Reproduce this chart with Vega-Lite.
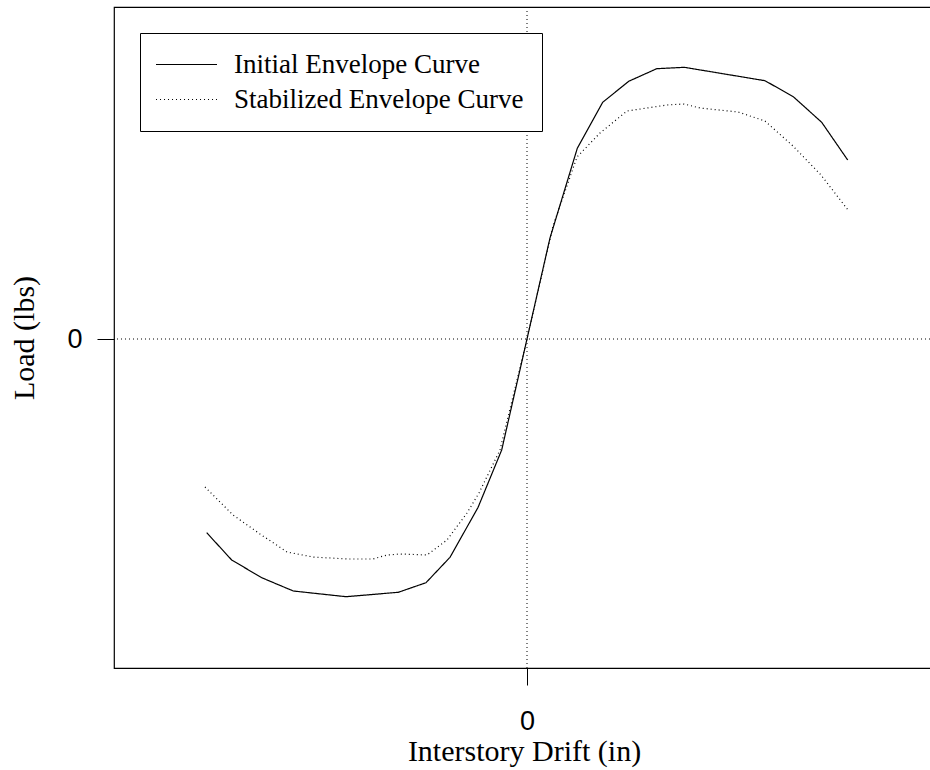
{
  "$schema": "https://vega.github.io/schema/vega-lite/v6.json",
  "width": 820,
  "height": 661,
  "autosize": {"type": "none"},
  "padding": {"left": 114, "top": 7, "right": 0, "bottom": 102},
  "background": "white",
  "config": {
    "view": {"stroke": "black", "strokeWidth": 1.2},
    "axis": {
      "domain": false,
      "grid": false,
      "ticks": true,
      "tickColor": "black",
      "tickWidth": 1,
      "tickSize": 17,
      "labelFont": "Liberation Sans",
      "labelFontSize": 27,
      "labelColor": "black",
      "titleFont": "Liberation Serif",
      "titleFontSize": 30,
      "titleFontWeight": "normal",
      "titleColor": "black"
    }
  },
  "data": {
    "values": [
      {"series": "Initial Envelope Curve", "ord": 1, "drift": -3.203, "load": -3874},
      {"series": "Initial Envelope Curve", "ord": 2, "drift": -2.953, "load": -4420},
      {"series": "Initial Envelope Curve", "ord": 3, "drift": -2.653, "load": -4774},
      {"series": "Initial Envelope Curve", "ord": 4, "drift": -2.337, "load": -5040},
      {"series": "Initial Envelope Curve", "ord": 5, "drift": -1.81, "load": -5154},
      {"series": "Initial Envelope Curve", "ord": 6, "drift": -1.287, "load": -5066},
      {"series": "Initial Envelope Curve", "ord": 7, "drift": -1.01, "load": -4874},
      {"series": "Initial Envelope Curve", "ord": 8, "drift": -0.77, "load": -4366},
      {"series": "Initial Envelope Curve", "ord": 9, "drift": -0.49, "load": -3370},
      {"series": "Initial Envelope Curve", "ord": 10, "drift": -0.253, "load": -2220},
      {"series": "Initial Envelope Curve", "ord": 11, "drift": 0, "load": 0},
      {"series": "Initial Envelope Curve", "ord": 12, "drift": 0.23, "load": 2020},
      {"series": "Initial Envelope Curve", "ord": 13, "drift": 0.503, "load": 3814},
      {"series": "Initial Envelope Curve", "ord": 14, "drift": 0.757, "load": 4734},
      {"series": "Initial Envelope Curve", "ord": 15, "drift": 1.017, "load": 5154},
      {"series": "Initial Envelope Curve", "ord": 16, "drift": 1.297, "load": 5406},
      {"series": "Initial Envelope Curve", "ord": 17, "drift": 1.573, "load": 5434},
      {"series": "Initial Envelope Curve", "ord": 18, "drift": 2.38, "load": 5166},
      {"series": "Initial Envelope Curve", "ord": 19, "drift": 2.663, "load": 4846},
      {"series": "Initial Envelope Curve", "ord": 20, "drift": 2.947, "load": 4334},
      {"series": "Initial Envelope Curve", "ord": 21, "drift": 3.207, "load": 3580},
      {"series": "Stabilized Envelope Curve", "ord": 1, "drift": -3.22, "load": -2960},
      {"series": "Stabilized Envelope Curve", "ord": 2, "drift": -2.94, "load": -3520},
      {"series": "Stabilized Envelope Curve", "ord": 3, "drift": -2.67, "load": -3900},
      {"series": "Stabilized Envelope Curve", "ord": 4, "drift": -2.4, "load": -4260},
      {"series": "Stabilized Envelope Curve", "ord": 5, "drift": -2.14, "load": -4360},
      {"series": "Stabilized Envelope Curve", "ord": 6, "drift": -1.8, "load": -4400},
      {"series": "Stabilized Envelope Curve", "ord": 7, "drift": -1.54, "load": -4400},
      {"series": "Stabilized Envelope Curve", "ord": 8, "drift": -1.4, "load": -4320},
      {"series": "Stabilized Envelope Curve", "ord": 9, "drift": -1.27, "load": -4300},
      {"series": "Stabilized Envelope Curve", "ord": 10, "drift": -1.0, "load": -4320},
      {"series": "Stabilized Envelope Curve", "ord": 11, "drift": -0.8, "load": -4020},
      {"series": "Stabilized Envelope Curve", "ord": 12, "drift": -0.6, "load": -3480},
      {"series": "Stabilized Envelope Curve", "ord": 13, "drift": -0.48, "load": -3080},
      {"series": "Stabilized Envelope Curve", "ord": 14, "drift": -0.27, "load": -2220},
      {"series": "Stabilized Envelope Curve", "ord": 15, "drift": 0, "load": 0},
      {"series": "Stabilized Envelope Curve", "ord": 16, "drift": 0.26, "load": 2260},
      {"series": "Stabilized Envelope Curve", "ord": 17, "drift": 0.5, "load": 3640},
      {"series": "Stabilized Envelope Curve", "ord": 18, "drift": 0.73, "load": 4120},
      {"series": "Stabilized Envelope Curve", "ord": 19, "drift": 1.0, "load": 4560},
      {"series": "Stabilized Envelope Curve", "ord": 20, "drift": 1.4, "load": 4680},
      {"series": "Stabilized Envelope Curve", "ord": 21, "drift": 1.57, "load": 4700},
      {"series": "Stabilized Envelope Curve", "ord": 22, "drift": 1.73, "load": 4620},
      {"series": "Stabilized Envelope Curve", "ord": 23, "drift": 2.11, "load": 4540},
      {"series": "Stabilized Envelope Curve", "ord": 24, "drift": 2.38, "load": 4360},
      {"series": "Stabilized Envelope Curve", "ord": 25, "drift": 2.66, "load": 3860},
      {"series": "Stabilized Envelope Curve", "ord": 26, "drift": 2.94, "load": 3280},
      {"series": "Stabilized Envelope Curve", "ord": 27, "drift": 3.21, "load": 2580}
    ]
  },
  "layer": [
    {
      "data": {"values": [{"v": 0}]},
      "mark": {"type": "rule", "color": "black", "strokeWidth": 1, "strokeDash": [1, 3]},
      "encoding": {"x": {"field": "v", "type": "quantitative"}}
    },
    {
      "data": {"values": [{"v": 0}]},
      "mark": {"type": "rule", "color": "black", "strokeWidth": 1, "strokeDash": [1, 3]},
      "encoding": {"y": {"field": "v", "type": "quantitative"}}
    },
    {
      "mark": {"type": "line", "color": "black", "strokeWidth": 1.2},
      "encoding": {
        "x": {
          "field": "drift",
          "type": "quantitative",
          "scale": {"domain": [-4.13, 4.07], "nice": false, "zero": false},
          "axis": {"values": [0], "format": "d", "labelPadding": 23, "title": "Interstory Drift (in)", "titlePadding": 2}
        },
        "y": {
          "field": "load",
          "type": "quantitative",
          "scale": {"domain": [-6580, 6640], "nice": false, "zero": false},
          "axis": {"values": [0], "format": "d", "labelPadding": 15, "title": "Load (lbs)", "titlePadding": 27}
        },
        "strokeDash": {
          "field": "series",
          "type": "nominal",
          "scale": {"domain": ["Initial Envelope Curve", "Stabilized Envelope Curve"], "range": [[1, 0], [1, 3]]},
          "legend": {
            "title": null,
            "orient": "none",
            "legendX": 26,
            "legendY": 26,
            "strokeColor": "black",
            "fillColor": "white",
            "cornerRadius": 0,
            "padding": 18,
            "symbolType": "M-3,0H3",
            "symbolSize": 413,
            "symbolOffset": 15,
            "symbolStrokeColor": "black",
            "symbolStrokeWidth": 1.2,
            "labelFont": "Liberation Serif",
            "labelFontSize": 27,
            "labelColor": "black",
            "labelOffset": 34,
            "labelLimit": 600,
            "rowPadding": 7,
            "labelExpr": "datum.label + '          '"
          }
        },
        "order": {"field": "ord", "type": "quantitative"}
      }
    }
  ]
}
